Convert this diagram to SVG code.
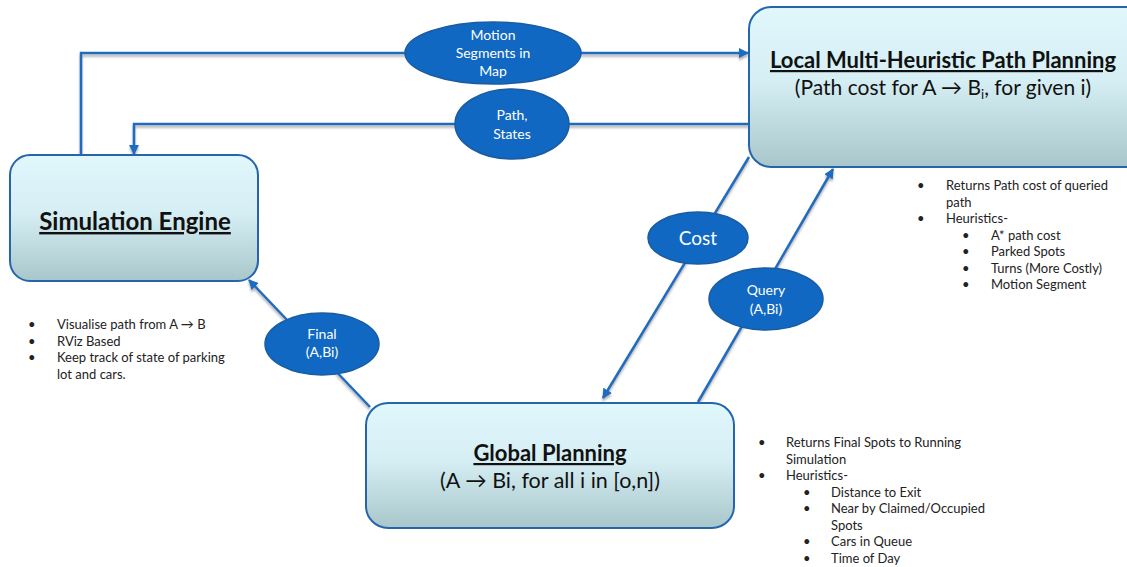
<svg xmlns="http://www.w3.org/2000/svg" width="1127" height="567" viewBox="0 0 1127 567">
<style>
.box{stroke:#2565ae;stroke-width:2;fill:url(#bg)}
.ell{fill:#1068c2;stroke:#1b5c9f;stroke-width:1.5}
.et{font-family:Lato,"Liberation Sans",sans-serif;fill:#fff;font-size:14px;text-anchor:middle}
.title{font-family:Lato,"Liberation Sans",sans-serif;font-weight:bold;text-decoration:underline;fill:#111;text-anchor:middle}
.sub{font-family:Lato,"Liberation Sans",sans-serif;fill:#111;text-anchor:middle;font-size:21px}
.bl{font-family:Lato,"Liberation Sans",sans-serif;fill:#222;font-size:13px}
.con{fill:none;stroke:#1f6cbf;stroke-width:2.5}
</style>
<defs>
<linearGradient id="bg" x1="0" y1="0" x2="0" y2="1">
<stop offset="0" stop-color="#e0f7fc"/>
<stop offset="0.45" stop-color="#d6eff4"/>
<stop offset="1" stop-color="#a8c7cb"/>
</linearGradient>
<marker id="ah" viewBox="0 0 10 10" refX="9" refY="5" markerWidth="4" markerHeight="4" orient="auto" markerUnits="strokeWidth">
<path d="M0,0 L10,5 L0,10 z" fill="#1f6cbf"/>
</marker>
<filter id="sh" x="-5%" y="-20%" width="110%" height="140%">
<feDropShadow dx="0" dy="2.5" stdDeviation="1.2" flood-color="#777" flood-opacity="0.6"/>
</filter>
</defs>
<rect width="1127" height="567" fill="#fff"/>
<g id="connectors" filter="url(#sh)">
<path class="con" d="M81,155 V53 H748" marker-end="url(#ah)"/>
<path class="con" d="M749,124 H134 V154" marker-end="url(#ah)"/>
<path class="con" d="M749,157 L603,398" marker-end="url(#ah)"/>
<path class="con" d="M698,402 L833,169" marker-end="url(#ah)"/>
<path class="con" d="M370,407 L249,280" marker-end="url(#ah)"/>
</g>
<g id="sim">
<rect class="box" x="10" y="155" width="248" height="126" rx="20"/>
<text class="title" x="135" y="230" style="font-size:24px">Simulation Engine</text>
</g>
<g id="local">
<rect class="box" x="749" y="7" width="400" height="160" rx="22"/>
<text class="title" x="943" y="68" style="font-size:22px">Local Multi-Heuristic Path Planning</text>
<text class="sub" x="943" y="95">(Path cost for A → B<tspan style="font-size:13px" dy="4">i</tspan><tspan dy="-4">, for given i)</tspan></text>
</g>
<g id="global">
<rect class="box" x="366" y="403" width="368" height="125" rx="22"/>
<text class="title" x="550" y="461" style="font-size:22px">Global Planning</text>
<text class="sub" x="550" y="488" style="font-size:21.5px">(A → Bi, for all i in [o,n])</text>
</g>
<g id="e-motion">
<ellipse class="ell" cx="493" cy="53" rx="88" ry="31"/>
<text class="et" x="493" y="40">Motion</text>
<text class="et" x="493" y="58">Segments in</text>
<text class="et" x="493" y="76">Map</text>
</g>
<g id="e-path">
<ellipse class="ell" cx="512" cy="124" rx="57" ry="35"/>
<text class="et" x="512" y="120">Path,</text>
<text class="et" x="512" y="139">States</text>
</g>
<g id="e-cost">
<ellipse class="ell" cx="698" cy="238" rx="50" ry="26"/>
<text class="et" x="698" y="245" style="font-size:19px">Cost</text>
</g>
<g id="e-query">
<ellipse class="ell" cx="766" cy="299" rx="57" ry="31"/>
<text class="et" x="766" y="295">Query</text>
<text class="et" x="766" y="314">(A,Bi)</text>
</g>
<g id="e-final">
<ellipse class="ell" cx="322" cy="344" rx="57" ry="31"/>
<text class="et" x="322" y="339">Final</text>
<text class="et" x="322" y="357">(A,Bi)</text>
</g>
<g id="notes-sim" class="bl">
<text x="28" y="329">•</text><text x="57" y="329">Visualise path from A → B</text>
<text x="28" y="346">•</text><text x="57" y="346">RViz Based</text>
<text x="28" y="362">•</text><text x="57" y="362">Keep track of state of parking</text>
<text x="57" y="379">lot and cars.</text>
</g>
<g id="notes-local" class="bl">
<text x="917" y="190">•</text><text x="946" y="190">Returns Path cost of queried</text>
<text x="946" y="207">path</text>
<text x="917" y="223">•</text><text x="946" y="223">Heuristics-</text>
<text x="962" y="240">•</text><text x="991" y="240">A* path cost</text>
<text x="962" y="256">•</text><text x="991" y="256">Parked Spots</text>
<text x="962" y="273">•</text><text x="991" y="273">Turns (More Costly)</text>
<text x="962" y="289">•</text><text x="991" y="289">Motion Segment</text>
</g>
<g id="notes-global" class="bl">
<text x="758" y="447">•</text><text x="786" y="447">Returns Final Spots to Running</text>
<text x="786" y="464">Simulation</text>
<text x="758" y="480">•</text><text x="786" y="480">Heuristics-</text>
<text x="803" y="497">•</text><text x="831" y="497">Distance to Exit</text>
<text x="803" y="513">•</text><text x="831" y="513">Near by Claimed/Occupied</text>
<text x="831" y="530">Spots</text>
<text x="803" y="546">•</text><text x="831" y="546">Cars in Queue</text>
<text x="803" y="563">•</text><text x="831" y="563">Time of Day</text>
</g>
</svg>
